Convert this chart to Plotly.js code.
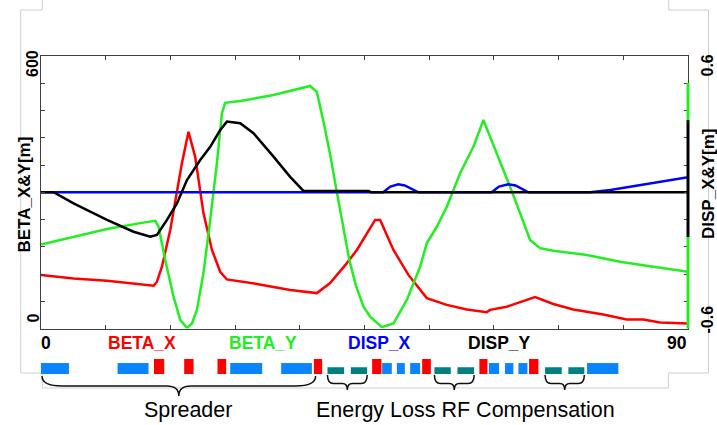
<!DOCTYPE html>
<html><head><meta charset="utf-8">
<script src="https://cdn.plot.ly/plotly-3.0.1.min.js"></script>
<style>html,body{margin:0;padding:0;background:#fff}#chart{width:717px;height:425px}</style>
</head><body><div id="chart"></div>
<script>
// ---------- data (s in m along beamline) ----------
const sBetaX = [0, 4.53, 9.18, 13.8, 15.66, 16.13, 16.82, 17.98, 18.91, 19.6, 20.52, 21.45, 22.6, 23.78, 24.93, 25.86, 30.03, 34.66, 38.37, 40.22, 42.55, 43.94, 46.48, 47.18, 49.03, 51.11, 53.67, 56.45, 59.23, 62.01, 62.47, 64.79, 68.73, 71.27, 74.05, 78.22, 81.48, 83.79, 86.11, 90];
const betaX  = [118, 110, 105, 97, 94, 103, 136, 217, 305, 364, 433, 378, 254, 173, 125, 108, 98, 85, 78, 100, 144, 173, 239, 239, 173, 118, 67, 52, 42, 36, 41, 48, 69, 54, 42, 31, 20, 20, 13, 11];

const sBetaY = [0, 4.53, 9.18, 13.8, 15.9, 16.35, 17.28, 18.44, 19.37, 20.3, 21.0, 21.69, 22.6, 23.54, 24.47, 25.17, 25.62, 27.71, 32.34, 37.44, 38.37, 39.3, 40.2, 41.1, 42.0, 42.9, 43.8, 44.86, 45.79, 47.41, 49.03, 50.89, 52.74, 53.67, 55.06, 56.45, 58.3, 60.15, 61.54, 63.4, 65.25, 66.64, 68.03, 69.42, 71.27, 75.92, 80.55, 85.18, 90];
const betaY  = [185, 202, 219, 232, 237, 224, 151, 70, 19, 1, 11, 41, 122, 239, 364, 474, 497, 501, 514, 534, 521, 455, 385, 305, 225, 150, 95, 48, 26, 3, 11, 63, 136, 188, 224, 268, 342, 400, 459, 386, 312, 254, 195, 177, 171, 162, 147, 136, 125];

const sDispX = [0, 47.6, 48.6, 49.7, 50.6, 52.5, 62.7, 63.7, 65.0, 66.0, 67.8, 76.4, 79.2, 81.5, 83.8, 86.1, 88.0, 90];
const dispX  = [0, 0, 0.025, 0.035, 0.03, 0, 0, 0.025, 0.035, 0.03, 0, 0, 0.01, 0.022, 0.032, 0.046, 0.057, 0.066];

const sDispY = [0, 1.75, 4.53, 9.18, 12.87, 15.2, 16.13, 17.52, 18.91, 20.3, 22.15, 23.54, 24.93, 25.86, 27.71, 29.56, 32.34, 34.66, 36.51, 45.6, 45.9, 90];
const dispY  = [0, 0, -0.049, -0.122, -0.174, -0.196, -0.188, -0.122, -0.049, 0.054, 0.142, 0.2, 0.274, 0.311, 0.304, 0.26, 0.157, 0.068, 0.006, 0.006, 0, 0];

// lattice elements: Q = quadrupole, B = dipole, C = RF cavity
const elemStart = [-0.19, 10.65, 15.71, 19.92, 24.55, 26.32, 33.41, 37.96, 39.85, 43.10, 46.06, 47.45, 49.50, 51.35, 53.02, 54.73, 57.93, 60.98, 62.29, 64.55, 66.41, 67.89, 70.12, 73.36, 75.96];
const elemEnd   = [3.89, 14.96, 17.14, 21.22, 25.76, 30.77, 37.68, 39.11, 42.17, 45.37, 47.36, 48.80, 50.61, 52.74, 54.23, 57.00, 60.25, 62.10, 63.72, 65.71, 67.66, 69.19, 72.44, 75.58, 80.31];
const elemType  = ['Q','Q','B','B','B','Q','Q','B','C','C','B','Q','Q','Q','B','C','C','B','Q','Q','Q','B','C','C','Q'];

// section braces
const braceLabels = ['Spreader', 'Energy Loss RF Compensation'];
const braceStart = [0.14, 39.85, 54.73, 70.12];
const braceEnd   = [38.2, 45.37, 60.25, 75.58];

const legendNames = ['BETA_X', 'BETA_Y', 'DISP_X', 'DISP_Y'];
const xTickVals = [0, 9, 18, 27, 36, 45, 54, 63, 72, 81, 90];
const yTickVals = [0, 60, 120, 180, 240, 300, 360, 420, 480, 540, 600];

// ---------- styles ----------
const C = {bx:'#ff0000', by:'#22ee22', dx:'#0000ff', dy:'#000000', axis:'#404040'};
const elemColor = {Q:'#0a84ff', B:'#ff0000', C:'#008080'};
const elemHeight = {Q:0.73, B:1.0, C:0.45};
const W = 717, H = 425, ML = 41, MR = 29, MT = 56, MB = 51;
const PW = W - ML - MR, PH = H - MT - MB;
const px2x = px => (px - ML) / PW;
const py2y = py => (H - MB - py) / PH;
const s2x = s => s / 90;
const FONT = 'Liberation Sans, Arial, Helvetica, sans-serif';

const traces = [
  {x: sDispX, y: dispX, yaxis: 'y2', mode: 'lines', line: {color: C.dx, width: 2.5}, name: legendNames[2]},
  {x: sDispY, y: dispY, yaxis: 'y2', mode: 'lines', line: {color: C.dy, width: 2.5}, name: legendNames[3]},
  {x: sBetaX, y: betaX, mode: 'lines', line: {color: C.bx, width: 2.5}, name: legendNames[0]},
  {x: sBetaY, y: betaY, mode: 'lines', line: {color: C.by, width: 2.5}, name: legendNames[1]},
  {type: 'bar', yaxis: 'y3', cliponaxis: false,
   x: elemStart.map((s, i) => (s + elemEnd[i]) / 2),
   width: elemStart.map((s, i) => elemEnd[i] - s),
   y: elemType.map(t => elemHeight[t]), base: 0,
   marker: {color: elemType.map(t => elemColor[t]), line: {width: 0}}, hoverinfo: 'skip'}
];

function ann(text, px, py, size, color, angle, bold) {
  return {text: bold ? '<b>' + text + '</b>' : text, x: px2x(px), y: py2y(py), xref: 'paper', yref: 'paper',
    showarrow: false, xanchor: 'center', yanchor: 'middle', textangle: angle || 0,
    font: {family: FONT, size: size, color: color}};
}
const annotations = [
  ann('600', 32.5, 63.5, 16, '#000', -90, true),
  ann('0', 32.5, 318, 16, '#000', -90, true),
  ann('BETA_X&Y[m]', 24, 194.5, 17, '#000', -90, true),
  ann('0.6', 706.5, 65, 16, '#000', -90, true),
  ann('-0.6', 706.5, 319, 16, '#000', -90, true),
  ann('DISP_X&Y[m]', 708, 184, 17, '#000', -90, true),
  ann('0', 46, 342.5, 17.5, '#000', 0, true),
  ann(legendNames[0], 142, 342.5, 17.5, C.bx, 0, true),
  ann(legendNames[1], 262.5, 342.5, 17.5, C.by, 0, true),
  ann(legendNames[2], 379.5, 342.5, 17.5, C.dx, 0, true),
  ann(legendNames[3], 499, 342.5, 17.5, C.dy, 0, true),
  ann('90', 677, 342.5, 17.5, '#000', 0, true),
  ann(braceLabels[0], 188, 409.5, 21.5, '#000', 0, false),
  ann(braceLabels[1], 465.5, 409.5, 21.5, '#000', 0, false)
];

function bracePath(s0, s1, yTop, yMid, yTip, rEnd, rTip) {
  const x0 = s2x(s0), x1 = s2x(s1), xm = (x0 + x1) / 2;
  const re = rEnd / PW, rt = rTip / PW;
  const t = py2y(yTop), m = py2y(yMid), p = py2y(yTip);
  return `M${x0},${t} Q${x0},${m} ${x0+re},${m} L${xm-rt},${m} Q${xm},${m} ${xm},${p} ` +
         `Q${xm},${m} ${xm+rt},${m} L${x1-re},${m} Q${x1},${m} ${x1},${t}`;
}
const shapes = [];
braceStart.forEach((s, i) => {
  const big = i === 0;
  shapes.push({type: 'path', xref: 'paper', yref: 'paper',
    path: big ? bracePath(s, braceEnd[i], 376, 386, 396, 20, 12) : bracePath(s, braceEnd[i], 375, 383.5, 390, 6, 5),
    line: {color: '#111', width: 1.5}});
});
// coloured segments on the right spine
[[83, 120, '#22ee22'], [120, 237, '#000000'], [237, 328.5, '#22ee22']].forEach(seg => {
  shapes.push({type: 'line', xref: 'paper', yref: 'paper', x0: 1, x1: 1, y0: py2y(seg[0]), y1: py2y(seg[1]),
    line: {color: seg[2], width: 3}});
});
// faint frame of the original figure
const frame = [[42.3,0],[42.3,10],[20.7,10],[20.7,373],[42.3,373],[42.3,388],[668.3,388],[668.3,373],[708.5,373],[708.5,10],[668.7,10],[668.7,0]];
shapes.push({type: 'path', xref: 'paper', yref: 'paper', layer: 'below',
  path: 'M' + frame.map(p => px2x(p[0]) + ',' + py2y(p[1])).join(' L'),
  line: {color: '#cfcfcf', width: 1}});

const axisStyle = {showgrid: false, zeroline: false, showline: true, linecolor: C.axis, linewidth: 1,
  mirror: 'ticks', ticks: 'inside', ticklen: 4, tickcolor: C.axis, showticklabels: false, fixedrange: true};

const layout = {
  width: W, height: H, margin: {l: ML, r: MR, t: MT, b: MB, pad: 0},
  paper_bgcolor: '#fff', plot_bgcolor: '#fff', showlegend: false,
  xaxis: Object.assign({}, axisStyle, {range: [0, 90], domain: [0, 1], anchor: 'y', tickvals: xTickVals}),
  yaxis: Object.assign({}, axisStyle, {range: [0, 600], domain: [py2y(328.5), 1], tickvals: yTickVals}),
  yaxis2: {overlaying: 'y', side: 'right', range: [-0.6, 0.6], showgrid: false, zeroline: false,
    showline: false, ticks: '', showticklabels: false, fixedrange: true},
  yaxis3: {domain: [0, py2y(359)], range: [0, 1], anchor: 'x', visible: false, fixedrange: true},
  annotations: annotations, shapes: shapes
};

Plotly.newPlot('chart', traces, layout, {staticPlot: true, displayModeBar: false});
</script></body></html>
